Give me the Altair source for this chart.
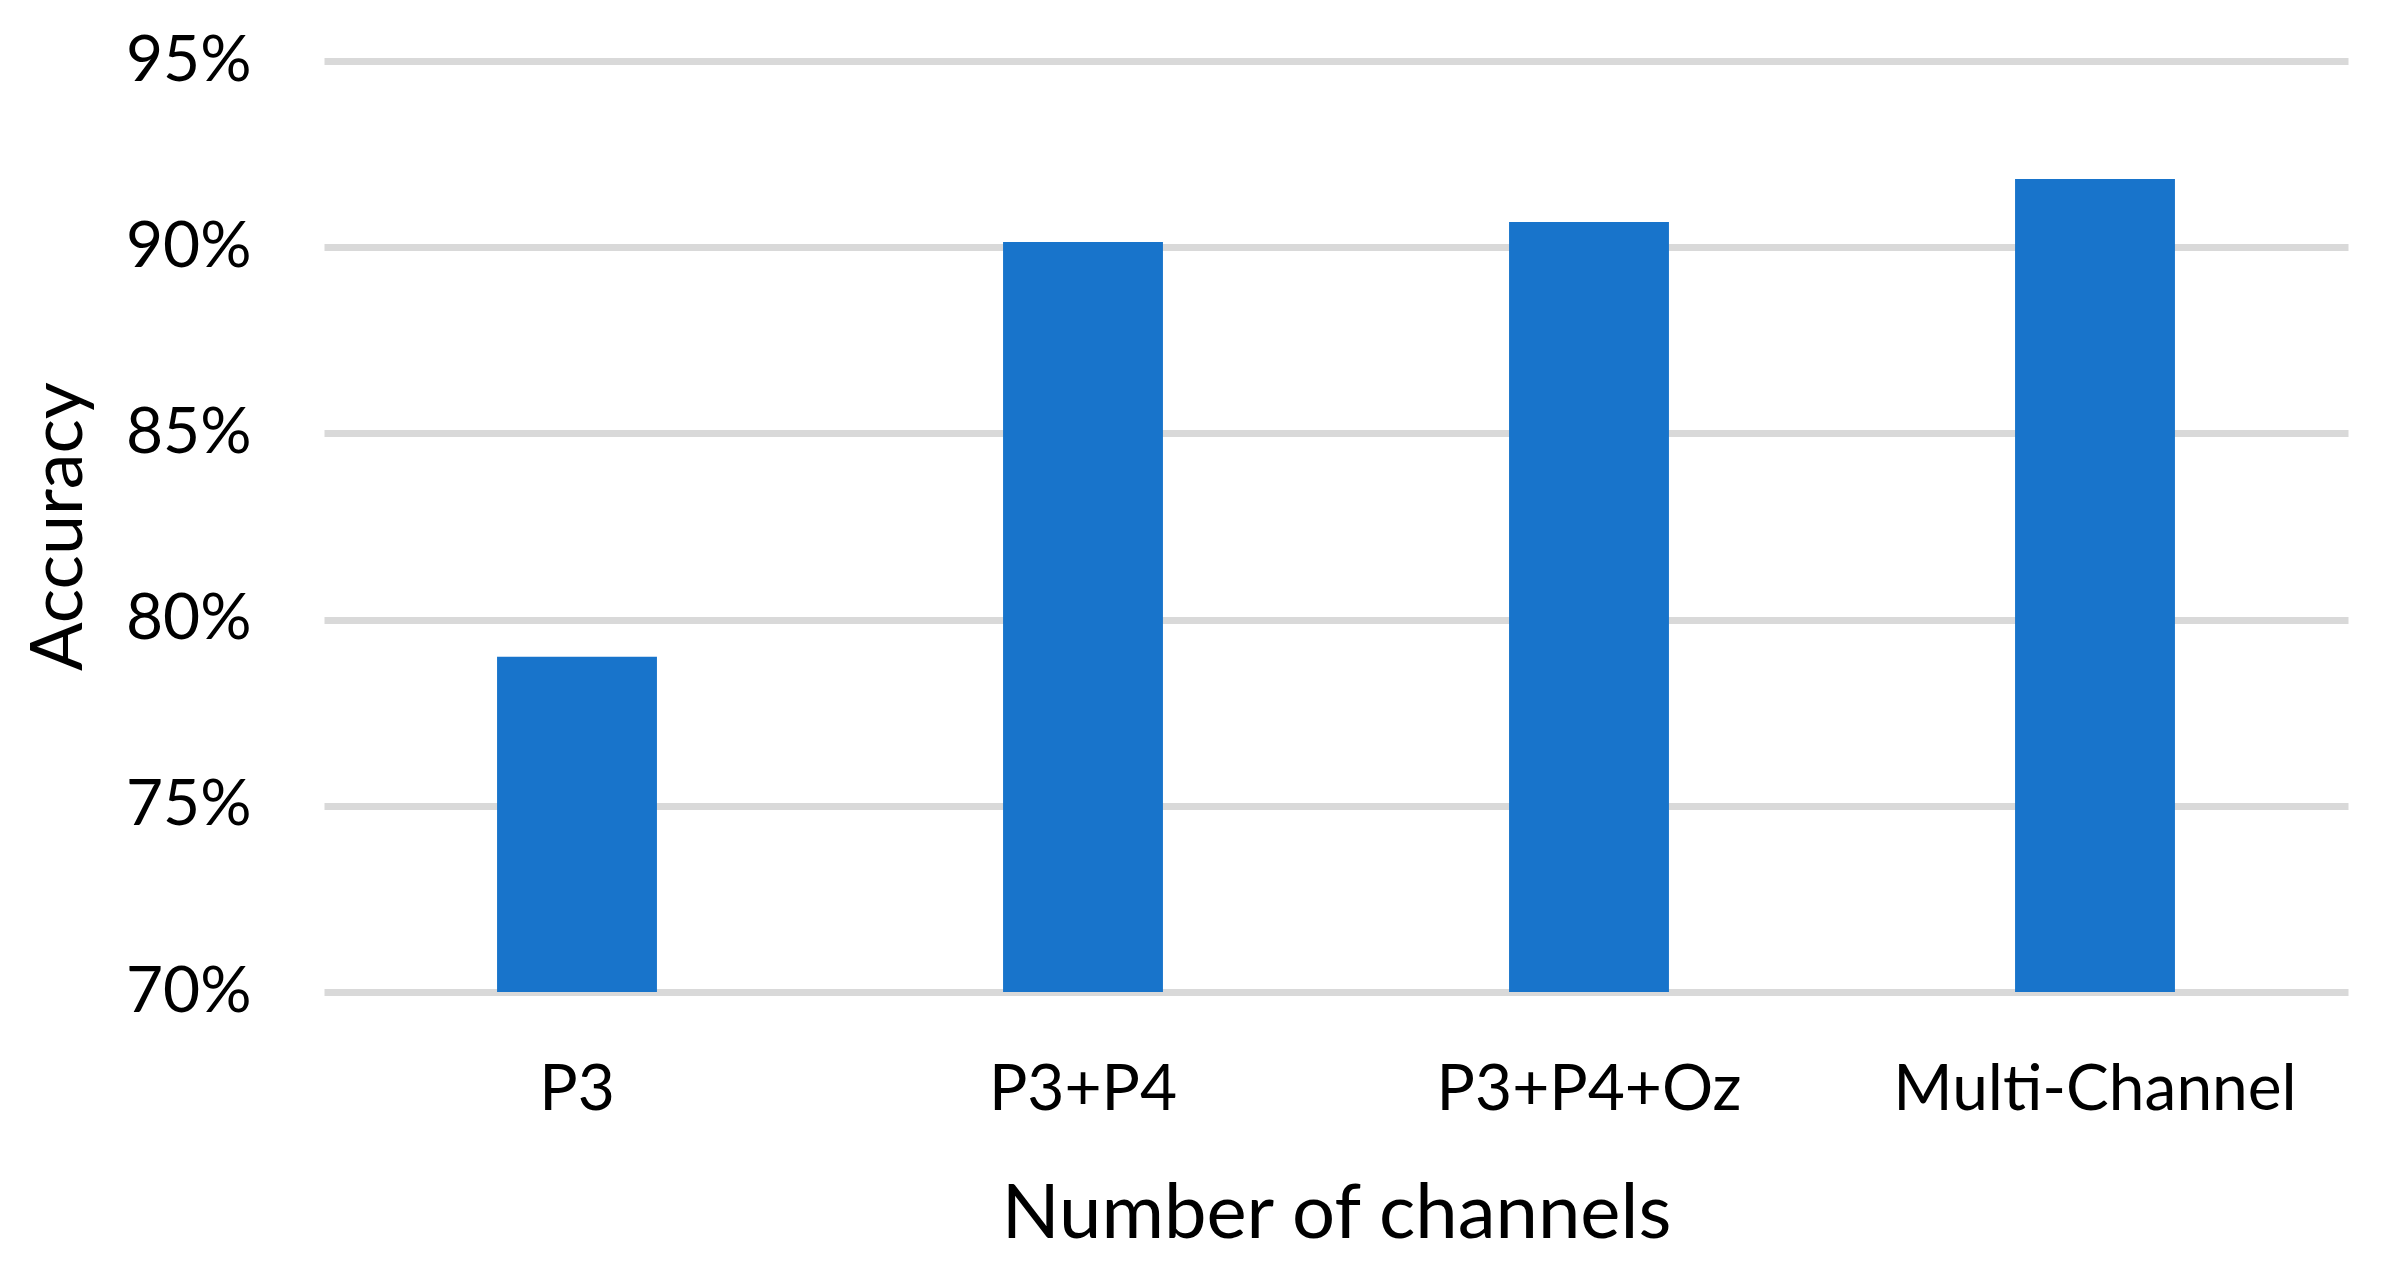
import altair as alt
import pandas as pd

categories = ["P3", "P3+P4", "P3+P4+Oz", "Multi-Channel"]
accuracy = [0.790, 0.9014, 0.9068, 0.9183]
y_ticks = [0.70, 0.75, 0.80, 0.85, 0.90, 0.95]

df = pd.DataFrame({"channels": categories, "accuracy": accuracy})

FONT = "Lato"

bars = alt.Chart(df).mark_bar(color="#1874CB").encode(
    x=alt.X(
        "channels:N",
        sort=categories,
        scale=alt.Scale(paddingInner=0.684, paddingOuter=0.342),
        axis=alt.Axis(
            title="Number of channels",
            labelAngle=0,
            labelFont=FONT,
            labelFontSize=64,
            labelColor="#000000",
            labelPadding=66,
            labelLimit=0,
            domain=False,
            ticks=False,
            grid=False,
            titleFont=FONT,
            titleFontSize=76,
            titleFontWeight="normal",
            titleColor="#000000",
            titleBaseline="alphabetic",
            titleY=245,
        ),
    ),
    y=alt.Y(
        "accuracy:Q",
        scale=alt.Scale(domain=[0.70, 0.95], zero=False, nice=False),
        axis=alt.Axis(
            title="Accuracy",
            values=y_ticks,
            format=".0%",
            labelFont=FONT,
            labelFontSize=64,
            labelColor="#000000",
            labelPadding=73,
            labelBaseline="middle",
            domain=False,
            ticks=False,
            grid=True,
            gridColor="#D9D9D9",
            gridWidth=7,
            titleFont=FONT,
            titleFontSize=72,
            titleFontWeight="normal",
            titleColor="#000000",
            titleAngle=270,
            titleBaseline="alphabetic",
            titleAlign="center",
            titleX=-243,
            titleY=465,
        ),
    ),
    y2=alt.datum(0.70),
)

chart = bars.properties(
    width=2024,
    height=931,
    background="#FFFFFF",
    autosize=alt.AutoSizeParams(type="none"),
    padding={"left": 316, "top": 53, "right": 27, "bottom": 276},
).configure_view(stroke=None)

chart.save("out.html", embed_options={"renderer": "svg", "actions": False})
